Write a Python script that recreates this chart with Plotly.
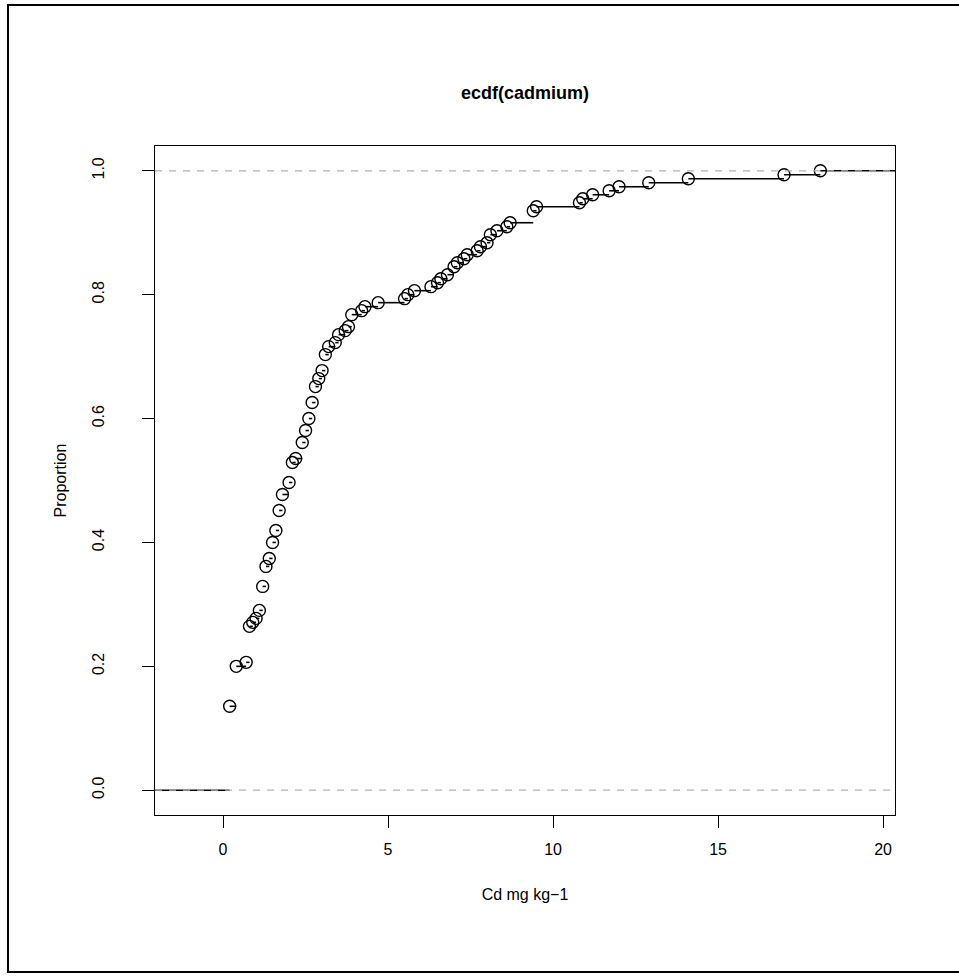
import plotly.graph_objects as go

# ---- data ----
cd_values = [0.2, 0.4, 0.7, 0.8, 0.9, 1.0, 1.1, 1.2, 1.3, 1.4, 1.5, 1.6, 1.7, 1.8, 2.0,
             2.1, 2.2, 2.4, 2.5, 2.6, 2.7, 2.8, 2.9, 3.0, 3.1, 3.2, 3.4, 3.5, 3.7, 3.8,
             3.9, 4.2, 4.3, 4.7, 5.5, 5.6, 5.8, 6.3, 6.5, 6.6, 6.8, 7.0, 7.1, 7.3, 7.4,
             7.7, 7.8, 8.0, 8.1, 8.3, 8.6, 8.7, 9.4, 9.5, 10.8, 10.9, 11.2, 11.7, 12.0,
             12.9, 14.1, 17.0, 18.1]
cum_counts = [21, 31, 32, 41, 42, 43, 45, 51, 56, 58, 62, 65, 70, 74, 77,
              82, 83, 87, 90, 93, 97, 101, 103, 105, 109, 111, 112, 114, 115, 116,
              119, 120, 121, 122, 123, 124, 125, 126, 127, 128, 129, 131, 132, 133, 134,
              135, 136, 137, 139, 140, 141, 142, 145, 146, 147, 148, 149, 150, 151,
              152, 153, 154, 155]
n_total = 155
x_ticks = [0, 5, 10, 15, 20]
y_ticks = [0.0, 0.2, 0.4, 0.6, 0.8, 1.0]

props = [c / n_total for c in cum_counts]

# R plot.stepfun limits
span = cd_values[-1] - cd_values[0]
dr = 0.08 * span
xlim = [cd_values[0] - dr, cd_values[-1] + dr]
xw = xlim[1] - xlim[0]
xr = [xlim[0] - 0.04 * xw, xlim[1] + 0.04 * xw]
yr = [-0.04, 1.04]

# horizontal step segments
sx, sy = [], []
lefts = [xlim[0] - dr] + cd_values
rights = cd_values + [xlim[1] + dr]
levels = [0.0] + props
for a, b, lv in zip(lefts, rights, levels):
    sx += [a, b, None]
    sy += [lv, lv, None]

fig = go.Figure()
fig.add_trace(go.Scatter(x=sx, y=sy, mode="lines",
                         line=dict(color="black", width=1.6),
                         hoverinfo="skip", showlegend=False))
fig.add_trace(go.Scatter(x=cd_values, y=props, mode="markers",
                         marker=dict(symbol="circle-open", size=12, color="black",
                                     line=dict(width=1.4, color="black")),
                         showlegend=False, cliponaxis=False))

L, R, T, B = 155, 64, 146, 163
W, H = 959, 978
pw, ph = W - L - R, H - T - B


def px(xp):
    return (xp - L) / pw


def py(yp):
    return (H - B - yp) / ph


shapes = []
for yv in (0.0, 1.0):
    shapes.append(dict(type="line", xref="paper", yref="y", x0=0, x1=1, y0=yv, y1=yv,
                       line=dict(color="#B3B3B3", width=1.3, dash="7px,7px"), layer="above"))
# outer frame
shapes.append(dict(type="rect", xref="paper", yref="paper",
                   x0=px(8), x1=px(965), y0=py(972), y1=py(5),
                   line=dict(color="black", width=2), layer="above"))

font = "Liberation Sans, Arial, Helvetica, sans-serif"
fig.update_layout(
    width=W, height=H,
    margin=dict(l=L, r=R, t=T, b=B, pad=0),
    paper_bgcolor="white", plot_bgcolor="white",
    font=dict(family=font, size=16, color="black"),
    shapes=shapes,
    annotations=[dict(text="<b>ecdf(cadmium)</b>", xref="paper", yref="paper",
                      x=0.5, y=py(93), xanchor="center", yanchor="middle",
                      showarrow=False, font=dict(size=18, family=font, color="black"))],
    xaxis=dict(range=xr, tickvals=x_ticks, ticktext=[str(v) for v in x_ticks],
               ticks="outside", ticklen=12, tickwidth=1.3, tickcolor="black",
               showline=True, linecolor="black", linewidth=1.4, mirror=True,
               showgrid=False, zeroline=False, ticklabelstandoff=8,
               title=dict(text="Cd mg kg\u22121", standoff=31, font=dict(size=16))),
    yaxis=dict(range=yr, tickvals=y_ticks, ticktext=[f"{v:.1f}" for v in y_ticks],
               tickangle=-90, ticks="outside", ticklen=12, tickwidth=1.3, tickcolor="black",
               showline=True, linecolor="black", linewidth=1.4, mirror=True,
               showgrid=False, zeroline=False, ticklabelstandoff=31,
               title=dict(text="Proportion", standoff=19, font=dict(size=16))),
)

fig.write_html("out.html")
